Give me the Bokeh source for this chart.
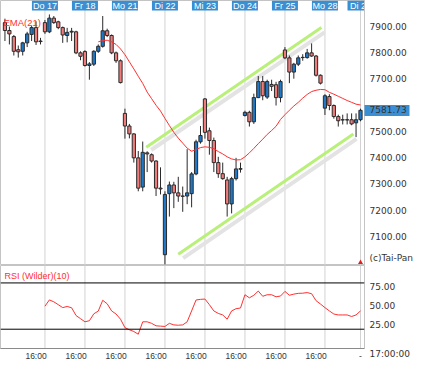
from bokeh.plotting import figure
from bokeh.layouts import column
from bokeh.models import Range1d, FixedTicker, Label, Span, NumeralTickFormatter
from bokeh.embed import file_html
from bokeh.resources import INLINE
from bokeh.core.properties import value

# ---------------- data (hourly candles, index 0..80) ----------------
opens = [7915, 7885, 7862, 7812, 7806, 7838, 7870, 7896, 7843,
         7915, 7880, 7932, 7918, 7896, 7866, 7879, 7880, 7800,
         7805, 7752, 7757, 7806, 7825, 7884, 7866, 7800, 7770,
         7570, 7522, 7492, 7401, 7290, 7420, 7413, 7389, 7286,
         7033, 7265, 7298, 7268, 7256, 7256, 7265, 7340, 7462,
         7625, 7504, 7467, 7383, 7341, 7317, 7226, 7322, 7358,
         7562, 7574, 7538, 7630, 7691, 7632, 7680, 7679, 7630,
         7811, 7781, 7727, 7757, 7782, 7782, 7800, 7788, 7715,
         7590, 7634, 7600, 7558, 7546, 7546, 7546, 7534, 7546]
highs = [7930, 7900, 7868, 7828, 7842, 7880, 7902, 7920, 7857,
         7925, 7946, 7940, 7922, 7900, 7895, 7895, 7884, 7806,
         7810, 7765, 7810, 7832, 7940, 7892, 7870, 7805, 7775,
         7588, 7530, 7495, 7427, 7463, 7426, 7418, 7392, 7365,
         7274, 7311, 7310, 7329, 7292, 7434, 7347, 7470, 7522,
         7628, 7516, 7478, 7405, 7383, 7329, 7329, 7401, 7383,
         7580, 7580, 7645, 7712, 7712, 7698, 7698, 7690, 7698,
         7822, 7790, 7762, 7790, 7795, 7815, 7836, 7792, 7718,
         7643, 7643, 7604, 7565, 7565, 7570, 7570, 7570, 7588]
lows = [7845, 7832, 7790, 7782, 7790, 7822, 7845, 7830, 7832,
        7872, 7875, 7910, 7890, 7838, 7840, 7845, 7795, 7772,
        7748, 7698, 7750, 7800, 7820, 7860, 7795, 7762, 7684,
        7474, 7475, 7383, 7274, 7274, 7347, 7383, 7256, 7262,
        6996, 7178, 7210, 7234, 7196, 7225, 7213, 7335, 7455,
        7474, 7413, 7347, 7325, 7318, 7178, 7190, 7315, 7345,
        7558, 7520, 7530, 7628, 7620, 7625, 7655, 7600, 7612,
        7776, 7685, 7702, 7750, 7770, 7778, 7785, 7710, 7680,
        7564, 7582, 7550, 7520, 7528, 7528, 7525, 7480, 7540]
closes = [7885, 7872, 7806, 7804, 7838, 7872, 7896, 7842, 7845,
          7880, 7932, 7915, 7896, 7868, 7878, 7882, 7800, 7787,
          7752, 7758, 7806, 7825, 7884, 7866, 7800, 7770, 7687,
          7522, 7492, 7401, 7286, 7422, 7416, 7389, 7286, 7283,
          7262, 7298, 7268, 7256, 7255, 7268, 7340, 7462, 7486,
          7498, 7467, 7383, 7341, 7322, 7226, 7322, 7359, 7360,
          7574, 7538, 7630, 7691, 7637, 7691, 7673, 7630, 7691,
          7781, 7727, 7757, 7781, 7783, 7800, 7788, 7715, 7685,
          7637, 7600, 7558, 7542, 7545, 7545, 7530, 7546, 7581.73]

# EMA(21), starting at candle 21
ema_start = 21
ema_values = [7842, 7847, 7848, 7842, 7832, 7815, 7793, 7766, 7739, 7711,
              7684, 7651, 7626, 7601, 7579, 7551, 7524, 7498, 7476, 7457,
              7438, 7426, 7433, 7440, 7443, 7441, 7436, 7425, 7416, 7405,
              7397, 7393, 7394, 7405, 7420, 7437, 7455, 7472, 7490, 7505,
              7521, 7547, 7565, 7582, 7598, 7612, 7628, 7642, 7653, 7658,
              7661, 7660, 7650, 7643, 7635, 7627, 7619, 7612, 7605, 7602]

# RSI (Wilder)(10), starting at candle 9
rsi_start = 9
rsi_values = [49.8, 58, 55.5, 51.8, 48, 49.5, 47.8, 37.7, 33.7, 29.6,
              31, 40, 43.5, 57.5, 53, 43.7, 39.7, 33, 22, 19.3,
              17, 13.5, 29.6, 29.6, 27.6, 24.4, 24, 23.6, 27.6, 25.6,
              25.2, 25.6, 29.6, 43.7, 57.9, 58.7, 59.1, 51.8, 43.7, 40.5,
              38.5, 33, 43.7, 46.6, 47.5, 64.7, 60.7, 64, 69.5, 62.7,
              64.7, 64.7, 62, 63, 69, 64, 65.5, 66.5, 66.7, 67.5,
              66, 57, 52.6, 48, 43.7, 39.7, 38.5, 38.5, 38.5, 36.5,
              38.5, 43.7]
rsi_levels = [80, 20]

# trend channel (hand-drawn lines)
chan_upper_x = [31.8, 71.2]
chan_upper_y = [7441, 7896]
chan_lower_x = [39.0, 78.4]
chan_lower_y = [7035, 7492]
shadow_upper_x = [32.9, 71.9]
shadow_upper_y = [7431, 7878]
shadow_lower_x = [40.1, 79.1]
shadow_lower_y = [7020, 7473]

day_labels = ["Do 17", "Fr 18", "Mo 21", "Di 22", "Mi 23", "Do 24", "Fr 25", "Mo 28", "Di 29"]
day_start_idx = [9, 18, 27, 36, 45, 54, 63, 72, 80]
time_tick_idx = [7, 16, 25, 34, 43, 52, 61, 70, 80]
time_tick_labels = ["16:00"] * 8 + ["-"]
last_time_label = "17:00:00"
copyright_text = "(c)Tai-Pan"
price_ticks = [7100, 7200, 7300, 7400, 7500, 7600, 7700, 7800, 7900]
rsi_ticks = [25, 50, 75]

# ---------------- styling / layout ----------------
FW = 364
MAIN_H = 265
RSI_H = 83
X0, X1 = -1.0, 80.9
Y0, Y1 = 6992, 7999
R0, R1 = -5, 102.6
BLUE_UP = "#1f78c8"
RED_DN = "#f27c7c"
BOX_BLUE = "#3a8fd3"
EDGE = "#2a2a2a"
GRID = "#d2d2d2"
LINE_RED = "#ff3030"
GREEN = "#b8f07a"
SHADOW = "#e3e3e3"
AX_FONT = "DejaVu Sans"
TXT_FONT = "Liberation Sans"
BOX_LEN = 45

n = len(opens)
idx = list(range(n))
ppy = MAIN_H / (Y1 - Y0)
ppr = RSI_H / (R1 - R0)
last_close = closes[-1]


def plain_axis(ax, font, size, color="#333333"):
    ax.major_label_text_font = font
    ax.major_label_text_font_size = size
    ax.major_label_text_color = color
    ax.major_tick_line_color = None
    ax.minor_tick_line_color = None
    ax.major_tick_out = 0
    ax.major_tick_in = 0


p = figure(frame_width=FW, frame_height=MAIN_H,
           x_range=Range1d(X0, X1), y_range=Range1d(Y0, Y1),
           x_axis_location=None, y_axis_location="right",
           output_backend="svg", toolbar_location=None,
           min_border_left=0, min_border_top=0, min_border_bottom=0, min_border_right=45,
           background_fill_color="white", border_fill_color="white",
           outline_line_color="#c4c4c4")
p.grid.grid_line_color = None

k = len(day_start_idx)
p.segment(x0=day_start_idx, y0=[Y0] * k, x1=day_start_idx, y1=[Y1] * k,
          line_color=GRID, line_width=1)

p.line(shadow_upper_x, shadow_upper_y, line_color=SHADOW, line_width=4)
p.line(shadow_lower_x, shadow_lower_y, line_color=SHADOW, line_width=4)
p.line(chan_upper_x, chan_upper_y, line_color=GREEN, line_width=3)
p.line(chan_lower_x, chan_lower_y, line_color=GREEN, line_width=3)

body_top = [max(o, c) for o, c in zip(opens, closes)]
body_bot = [min(o, c) for o, c in zip(opens, closes)]
colors = [BLUE_UP if c > o else (RED_DN if c < o else EDGE) for o, c in zip(opens, closes)]
p.segment(x0=idx, y0=highs, x1=idx, y1=lows, line_color=EDGE, line_width=1)
p.vbar(x=idx, width=0.72, top=body_top, bottom=body_bot,
       fill_color=colors, line_color=EDGE, line_width=1)

ema_x = list(range(ema_start, ema_start + len(ema_values)))
p.line(ema_x, ema_values, line_color=LINE_RED, line_width=1)

box_y = [Y1 - 5 / ppy] * k
p.rect(x=day_start_idx, y=box_y, width=26, height=10,
       width_units="screen", height_units="screen",
       fill_color=BOX_BLUE, line_color=None)
p.text(x=day_start_idx, y=box_y, text=day_labels, text_color="white",
       text_font=value(TXT_FONT), text_font_size="9px",
       text_align="center", text_baseline="middle")

p.scatter(x=[idx[-1]], y=[Y0 + 3 / ppy], marker="triangle", size=5,
          fill_color="#e02020", line_color=None)

p.add_layout(Label(x=X0, x_offset=3, y=Y1 - 22 / ppy, text="EMA(21)",
                   text_color=LINE_RED, text_font=TXT_FONT, text_font_size="9.5px",
                   text_baseline="middle"))

# price scale; the last price gets its own tick with a long blue minor tick as a box,
# labels pulled back next to the axis line with a negative standoff;
# the copyright note sits on a tick near the bottom
note_y = Y0 + 8 / ppy
shown_ticks = [t for t in price_ticks if abs(t - last_close) > 30] + [last_close, note_y]
yax = p.yaxis[0]
yax.ticker = FixedTicker(ticks=shown_ticks, minor_ticks=[last_close])
yax.formatter = NumeralTickFormatter(format="0.00")
yax.major_label_overrides = {note_y: copyright_text}
plain_axis(yax, AX_FONT, "9px")
yax.axis_line_color = "#c4c4c4"
yax.minor_tick_line_color = BOX_BLUE
yax.minor_tick_line_width = 11
yax.minor_tick_in = 0
yax.minor_tick_out = BOX_LEN
yax.major_label_standoff = 5 - BOX_LEN

# ---------------- RSI panel ----------------
r = figure(frame_width=FW, frame_height=RSI_H,
           x_range=p.x_range, y_range=Range1d(R0, R1),
           y_axis_location="right",
           output_backend="svg", toolbar_location=None,
           min_border_left=0, min_border_top=0, min_border_bottom=0, min_border_right=45,
           background_fill_color="white", border_fill_color="white",
           outline_line_color="#c4c4c4")
r.grid.grid_line_color = None
r.segment(x0=day_start_idx, y0=[R0] * k, x1=day_start_idx, y1=[R1] * k,
          line_color=GRID, line_width=1)
for lvl in rsi_levels:
    r.add_layout(Span(location=lvl, dimension="width", line_color="black", line_width=1))
rsi_x = list(range(rsi_start, rsi_start + len(rsi_values)))
r.line(rsi_x, rsi_values, line_color=LINE_RED, line_width=1)

r.add_layout(Label(x=X0, x_offset=4, y=R1 - 10 / ppr, text="RSI (Wilder)(10)",
                   text_color=LINE_RED, text_font=TXT_FONT, text_font_size="9px",
                   text_baseline="middle"))

# RSI scale; the time of the last bar hangs below its bottom tick
time_y = R0 + 0.2
ry = r.yaxis[0]
ry.ticker = FixedTicker(ticks=rsi_ticks + [time_y])
ry.formatter = NumeralTickFormatter(format="0.00")
ry.major_label_overrides = {time_y: "\n" + last_time_label}
plain_axis(ry, AX_FONT, "9px")
ry.axis_line_color = "#c4c4c4"
ry.major_label_standoff = 5

rx = r.xaxis[0]
rx.ticker = FixedTicker(ticks=time_tick_idx)
rx.major_label_overrides = {t: lab for t, lab in zip(time_tick_idx, time_tick_labels)}
plain_axis(rx, TXT_FONT, "8.5px")
rx.axis_line_color = "#8a8a8a"
rx.major_label_standoff = 2

layout = column(p, r, spacing=0)
open("out.html", "w").write(file_html(layout, INLINE))
